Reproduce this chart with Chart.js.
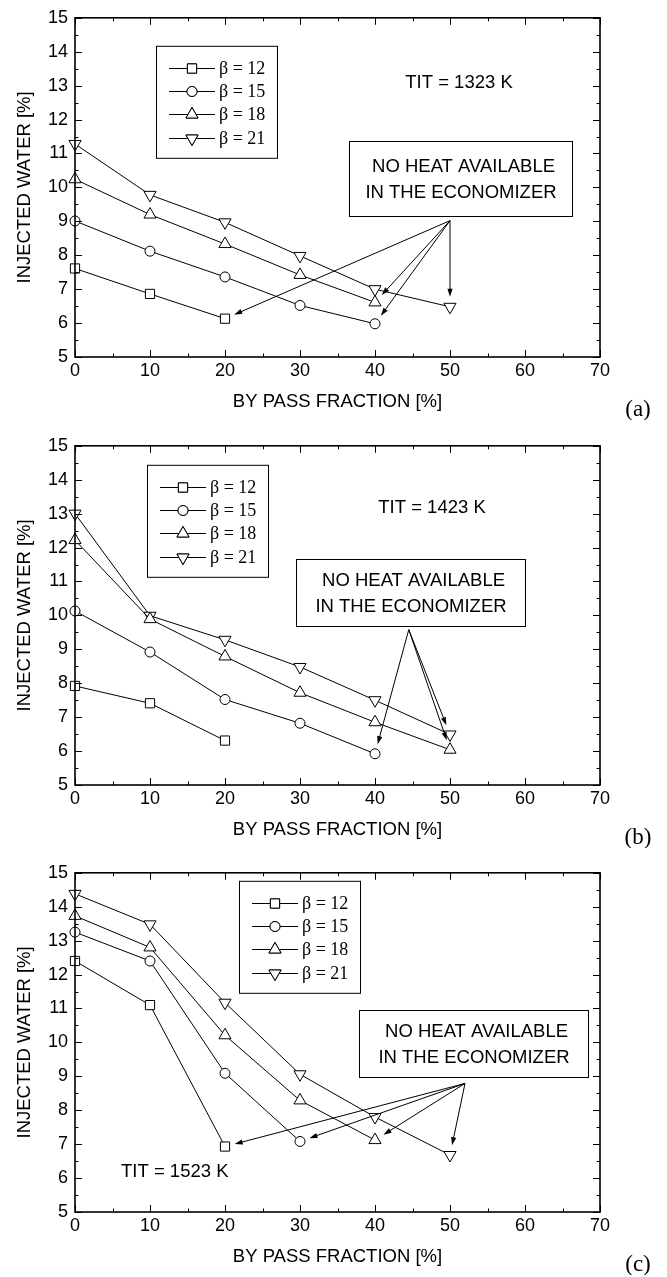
<!DOCTYPE html>
<html>
<head>
<meta charset="utf-8">
<script src="https://cdn.jsdelivr.net/npm/chart.js@4.4.0/dist/chart.umd.min.js"></script>
<style>
  html, body { margin: 0; padding: 0; background: #fff; }
  body { width: 667px; height: 1277px; position: relative; overflow: hidden; }
  .panel { position: absolute; left: 0; width: 667px; height: 420px; }
</style>
</head>
<body>
<div class="panel" style="top:0px"><canvas id="ca" width="667" height="420"></canvas></div>
<div class="panel" style="top:428px"><canvas id="cb" width="667" height="420"></canvas></div>
<div class="panel" style="top:855px"><canvas id="cc" width="667" height="420"></canvas></div>
<script>
// by-pass fraction [%] and injected water [%] for each pressure ratio
const bypass = [0, 10, 20, 30, 40, 50];
const betaLabels = ["β = 12", "β = 15", "β = 18", "β = 21"];

// TIT = 1323 K
const w1323_b12 = [7.61, 6.86, 6.13];
const w1323_b15 = [9.01, 8.12, 7.36, 6.52, 5.98];
const w1323_b18 = [10.24, 9.2, 8.33, 7.42, 6.61];
const w1323_b21 = [11.28, 9.78, 8.97, 7.98, 7.0, 6.48];

// TIT = 1423 K
const w1423_b12 = [7.92, 7.41, 6.31];
const w1423_b15 = [10.13, 8.92, 7.52, 6.82, 5.92];
const w1423_b18 = [12.22, 9.89, 8.79, 7.72, 6.85, 6.04];
const w1423_b21 = [13.0, 9.99, 9.28, 8.48, 7.5, 6.49];

// TIT = 1523 K
const w1523_b12 = [12.4, 11.1, 6.93];
const w1523_b15 = [13.25, 12.4, 9.09, 7.08];
const w1523_b18 = [13.73, 12.8, 10.21, 8.29, 7.12];
const w1523_b21 = [14.38, 13.48, 11.17, 9.06, 7.8, 6.68];

const SANS = '"Liberation Sans", Arial, Helvetica, sans-serif';
const SERIF = '"Liberation Serif", "Times New Roman", serif';

const markers = [
  { pointStyle: 'rect', radius: 6.5, rotation: 0 },
  { pointStyle: 'circle', radius: 5, rotation: 0 },
  { pointStyle: 'triangle', radius: 7, rotation: 0 },
  { pointStyle: 'triangle', radius: 7, rotation: 180 }
];

const panels = [
  {
    canvas: 'ca', letter: '(a)',
    series: [w1323_b12, w1323_b15, w1323_b18, w1323_b21],
    tit: { text: 'TIT = 1323 K', x: 51.2, y: 13.08 },
    legend: { dx: 81, dy: 28 },
    note: { x0: 36.5, y0: 11.36, x1: 66.3, y1: 9.17 },
    arrowFrom: [50, 9.02],
    arrowTo: [[0, 2], [2, 4], [1, 4], [3, 5]]
  },
  {
    canvas: 'cb', letter: '(b)',
    series: [w1423_b12, w1423_b15, w1423_b18, w1423_b21],
    tit: { text: 'TIT = 1423 K', x: 47.6, y: 13.16 },
    legend: { dx: 72, dy: 19 },
    note: { x0: 29.5, y0: 11.66, x1: 60.0, y1: 9.68 },
    arrowFrom: [44.5, 9.58],
    arrowTo: [[1, 4], [2, 5], [3, 5]]
  },
  {
    canvas: 'cc', letter: '(c)',
    series: [w1523_b12, w1523_b15, w1523_b18, w1523_b21],
    tit: { text: 'TIT = 1523 K', x: 13.3, y: 6.17 },
    legend: { dx: 164, dy: 8 },
    note: { x0: 37.9, y0: 10.95, x1: 68.4, y1: 8.97 },
    arrowFrom: [52, 8.79],
    arrowTo: [[0, 2], [1, 3], [2, 4], [3, 5]]
  }
];

function drawArrow(ctx, x0, y0, x1, y1, gap) {
  const dx = x1 - x0, dy = y1 - y0;
  const len = Math.hypot(dx, dy);
  const ux = dx / len, uy = dy / len;
  const tx = x1 - ux * gap, ty = y1 - uy * gap;
  const head = 8, half = 2.6;
  ctx.beginPath();
  ctx.moveTo(x0, y0);
  ctx.lineTo(tx - ux * head * 0.6, ty - uy * head * 0.6);
  ctx.stroke();
  ctx.beginPath();
  ctx.moveTo(tx, ty);
  ctx.lineTo(tx - ux * head - uy * half, ty - uy * head + ux * half);
  ctx.lineTo(tx - ux * head + uy * half, ty - uy * head - ux * half);
  ctx.closePath();
  ctx.fill();
}

// frame, inward ticks, legend, notes and arrows
const decor = {
  id: 'decor',
  afterDraw(chart, args, opts) {
    const p = opts.panel;
    const ctx = chart.ctx;
    const { left, right, top, bottom } = chart.chartArea;
    const xs = chart.scales.x, ys = chart.scales.y;
    ctx.save();
    ctx.strokeStyle = '#000';
    ctx.fillStyle = '#000';

    // ticks on all four sides
    ctx.lineWidth = 1;
    ctx.beginPath();
    for (let v = 0; v <= 70; v += 5) {
      const x = Math.round(xs.getPixelForValue(v)) + 0.5;
      const L = v % 10 === 0 ? 7 : 3.5;
      ctx.moveTo(x, bottom); ctx.lineTo(x, bottom - L);
      ctx.moveTo(x, top); ctx.lineTo(x, top + L);
    }
    for (let v = 5; v <= 15; v += 0.5) {
      const y = Math.round(ys.getPixelForValue(v)) + 0.5;
      const L = Number.isInteger(v) ? 7 : 3.5;
      ctx.moveTo(left, y); ctx.lineTo(left + L, y);
      ctx.moveTo(right, y); ctx.lineTo(right - L, y);
    }
    ctx.stroke();
    ctx.lineWidth = 1.6;
    ctx.strokeRect(left, top, right - left, bottom - top);

    // legend box
    const lx = left + p.legend.dx, ly = top + p.legend.dy;
    ctx.lineWidth = 1;
    ctx.fillStyle = '#fff';
    ctx.fillRect(lx, ly, 121, 112);
    ctx.strokeRect(lx + 0.5, ly + 0.5, 121, 112);
    ctx.font = '18px ' + SERIF;
    ctx.textBaseline = 'middle';
    ctx.textAlign = 'left';
    chart.data.datasets.forEach((ds, i) => {
      const ry = Math.round(ly + 22 + i * 23.3) + 0.5;
      ctx.strokeStyle = '#000';
      ctx.lineWidth = 1;
      ctx.beginPath();
      ctx.moveTo(lx + 13, ry); ctx.lineTo(lx + 59, ry);
      ctx.stroke();
      ctx.fillStyle = '#fff';
      Chart.helpers.drawPoint(ctx, {
        pointStyle: ds.pointStyle, radius: ds.pointRadius, rotation: ds.pointRotation, borderWidth: 1
      }, lx + 36, ry);
      ctx.fill();
      ctx.stroke();
      ctx.fillStyle = '#000';
      ctx.fillText(ds.label, lx + 63, ry + 1);
    });

    // TIT label
    ctx.font = '18.5px ' + SANS;
    ctx.textAlign = 'center';
    ctx.fillStyle = '#000';
    ctx.fillText(p.tit.text, xs.getPixelForValue(p.tit.x), ys.getPixelForValue(p.tit.y));

    // note box
    const nx0 = Math.round(xs.getPixelForValue(p.note.x0)) + 0.5;
    const nx1 = Math.round(xs.getPixelForValue(p.note.x1)) + 0.5;
    const ny0 = Math.round(ys.getPixelForValue(p.note.y0)) + 0.5;
    const ny1 = Math.round(ys.getPixelForValue(p.note.y1)) + 0.5;
    ctx.fillStyle = '#fff';
    ctx.fillRect(nx0, ny0, nx1 - nx0, ny1 - ny0);
    ctx.strokeRect(nx0, ny0, nx1 - nx0, ny1 - ny0);
    ctx.fillStyle = '#000';
    const ncx = (nx0 + nx1) / 2, ncy = (ny0 + ny1) / 2;
    ctx.fillText(' NO HEAT AVAILABLE', ncx, ncy - 12);
    ctx.fillText('IN THE ECONOMIZER', ncx, ncy + 14);

    // arrows pointing at the last points
    const ox = xs.getPixelForValue(p.arrowFrom[0]);
    const oy = ys.getPixelForValue(p.arrowFrom[1]);
    ctx.lineWidth = 1;
    p.arrowTo.forEach(([s, k]) => {
      const tx = xs.getPixelForValue(bypass[k]);
      const ty = ys.getPixelForValue(p.series[s][k]);
      drawArrow(ctx, ox, oy, tx, ty, 10);
    });

    // panel letter
    ctx.font = '23px ' + SERIF;
    ctx.textAlign = 'center';
    ctx.fillText(p.letter, 638, 410);
    ctx.restore();
  }
};

panels.forEach(p => {
  const datasets = p.series.map((vals, i) => ({
    label: betaLabels[i],
    data: vals.map((v, k) => ({ x: bypass[k], y: v })),
    showLine: true,
    clip: false,
    borderColor: '#000',
    borderWidth: 1,
    backgroundColor: '#fff',
    pointStyle: markers[i].pointStyle,
    pointRadius: markers[i].radius,
    pointRotation: markers[i].rotation,
    pointBorderWidth: 1,
    pointBorderColor: '#000',
    pointBackgroundColor: '#fff',
    tension: 0
  }));

  new Chart(document.getElementById(p.canvas), {
    type: 'scatter',
    data: { datasets },
    plugins: [decor],
    options: {
      responsive: false,
      animation: false,
      layout: { padding: { left: 0, right: 67, top: 14, bottom: 3 } },
      plugins: {
        legend: { display: false },
        tooltip: { enabled: false },
        decor: { panel: p }
      },
      scales: {
        x: {
          type: 'linear', min: 0, max: 70,
          ticks: { stepSize: 10, color: '#000', padding: 3, maxRotation: 0,
                   font: { family: SANS, size: 18 } },
          grid: { display: false, drawTicks: false },
          border: { display: false },
          title: { display: true, text: 'BY PASS FRACTION [%]', color: '#000',
                   font: { family: SANS, size: 18.5 }, padding: { top: 4, bottom: 4 } },
          afterFit: s => { s.height = 60; }
        },
        y: {
          type: 'linear', min: 5, max: 15,
          ticks: { stepSize: 1, color: '#000', padding: 7,
                   font: { family: SANS, size: 18 } },
          grid: { display: false, drawTicks: false },
          border: { display: false },
          title: { display: true, text: 'INJECTED WATER [%]', color: '#000',
                   font: { family: SANS, size: 18.5 }, padding: { top: 14, bottom: 4 } },
          afterFit: s => { s.width = 75; }
        }
      }
    }
  });
});
</script>
</body>
</html>
